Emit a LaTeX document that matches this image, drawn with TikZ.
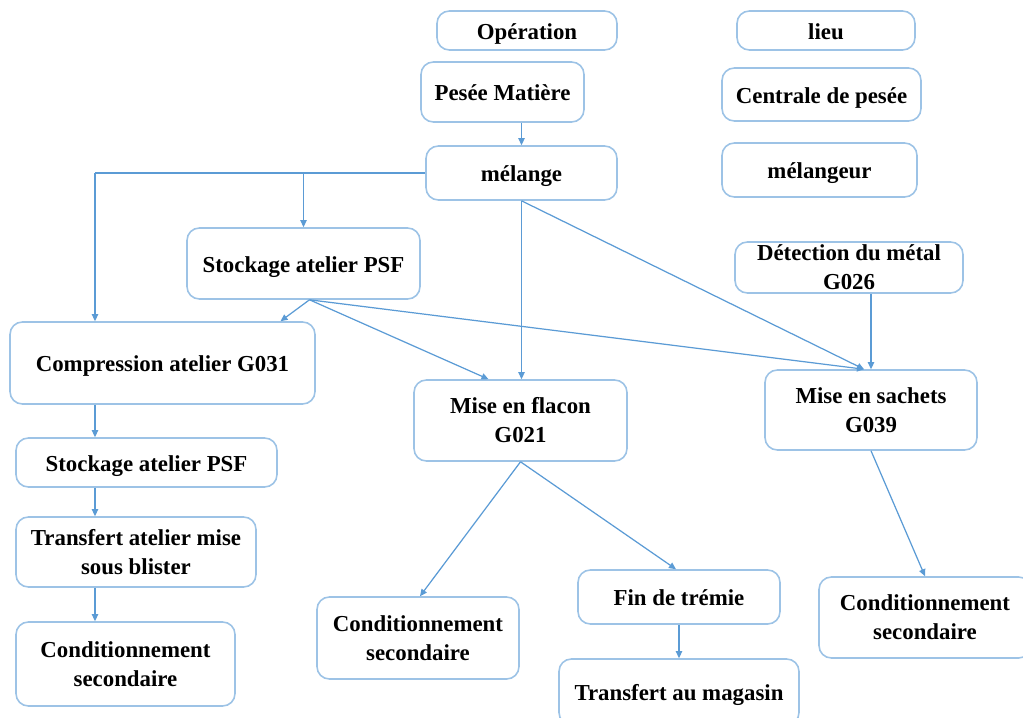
\documentclass[tikz,border=0pt]{standalone}
\usepackage{fontspec}
\setmainfont{Liberation Serif}
\usetikzlibrary{arrows.meta,calc}
\definecolor{boxline}{RGB}{157,195,230}
\definecolor{flow}{RGB}{91,155,213}
\tikzset{
  box/.style={draw=boxline, line width=0.9pt, rounded corners=7pt, fill=white,
    align=center, inner sep=0pt,
    font=\fontsize{13}{16.5}\selectfont\bfseries},
  % single-line labels: caps centred vertically in the box
  oneline/.style={text height=12pt, text depth=2pt},
  link/.style={draw=flow, line width=0.7pt,
    -{Triangle[length=4pt,width=3.6pt]}},
  plain/.style={draw=flow, line width=0.7pt}
}
\begin{document}
\begin{tikzpicture}[x=0.02cm,y=-0.02cm]
\useasboundingbox (0,0) rectangle (1023,717);

% header row
\node[box, oneline, minimum width=3.6cm,  minimum height=0.78cm] (op)   at (527,30.5)   {Opération};
\node[box, oneline, minimum width=3.56cm, minimum height=0.78cm] (lieu) at (826,30.5)   {lieu};

% operations and places
\node[box, oneline, minimum width=3.26cm, minimum height=1.2cm]  (pesee)     at (502.5,92)   {Pesée Matière};
\node[box, oneline, minimum width=3.98cm, minimum height=1.06cm] (centrale)  at (821.5,94.5) {Centrale de pesée};
\node[box, oneline, minimum width=3.82cm, minimum height=1.08cm] (melange)   at (521.5,173)  {mélange};
\node[box, oneline, minimum width=3.9cm,  minimum height=1.08cm] (melangeur) at (819.5,170)  {mélangeur};
\node[box, oneline, minimum width=4.66cm, minimum height=1.42cm] (stockA)    at (303.5,263.5){Stockage atelier PSF};
\node[box, minimum width=4.56cm, minimum height=1.02cm] (detect)    at (849,267.5)  {Détection du métal\\G026};
\node[box, oneline, minimum width=6.1cm,  minimum height=1.64cm] (compr)     at (162.5,363)  {Compression atelier G031};
\node[box, minimum width=4.26cm, minimum height=1.62cm] (flacon)    at (520.5,420.5){Mise en flacon\\G021};
\node[box, minimum width=4.24cm, minimum height=1.6cm]  (sachets)   at (871,410)    {Mise en sachets\\G039};
\node[box, oneline, minimum width=5.22cm, minimum height=0.98cm] (stockB)    at (146.5,462.5){Stockage atelier PSF};
\node[box, minimum width=4.8cm,  minimum height=1.4cm]  (blister)   at (136,552)    {Transfert atelier mise\\sous blister};
\node[box, minimum width=4.38cm, minimum height=1.68cm] (condA)     at (125.5,664)  {Conditionnement\\secondaire};
\node[box, minimum width=4.04cm, minimum height=1.64cm] (condB)     at (418,638)    {Conditionnement\\secondaire};
\node[box, oneline, minimum width=4.04cm, minimum height=1.08cm] (tremie)    at (679,597)    {Fin de trémie};
\node[box, oneline, minimum width=4.8cm,  minimum height=1.32cm] (magasin)   at (679,692)    {Transfert au magasin};
\node[box, minimum width=4.24cm, minimum height=1.62cm] (condC)     at (925,617.5)  {Conditionnement\\secondaire};

% helper points
\coordinate (lane) at (95,173);
\coordinate (sA) at ($(stockA.south)+(6,0)$);
\coordinate (inS) at ($(sachets.north)+(-7,0)$);

% connectors
\draw[link] (melange.north |- pesee.south) -- (melange.north);
\draw[plain] (melange.west) -- (lane);
\draw[link] (lane) -- (lane |- compr.north);
\draw[link] (stockA.north |- melange.west) -- (stockA.north);
\draw[link] (melange.south) -- (melange.south |- flacon.north);
\draw[link] (melange.south) -- (inS);
\draw[link] (sA) -- ($(compr.north)+(118,0)$);
\draw[link] (sA) -- ($(flacon.north)+(-32,0)$);
\draw[link] (sA) -- (inS);
\draw[link] (detect.south -| sachets.north) -- (sachets.north);
\draw[link] (lane |- compr.south) -- (lane |- stockB.north);
\draw[link] (lane |- stockB.south) -- (lane |- blister.north);
\draw[link] (lane |- blister.south) -- (lane |- condA.north);
\draw[link] (flacon.south) -- ($(condB.north)+(2,0)$);
\draw[link] (flacon.south) -- ($(tremie.north)+(-3,0)$);
\draw[link] (tremie.south) -- (magasin.north);
\draw[link] (sachets.south) -- (condC.north);
\end{tikzpicture}
\end{document}
